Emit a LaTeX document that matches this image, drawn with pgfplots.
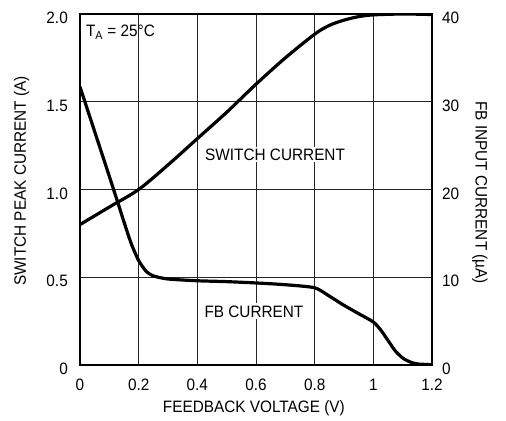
\documentclass[border=0pt]{standalone}
\usepackage{fontspec}
\setmainfont{Liberation Sans}[FakeStretch=0.93]
\usepackage{pgfplots}
\pgfplotsset{compat=1.18}
\begin{document}
\fontsize{16.5bp}{19bp}\selectfont
\begin{tikzpicture}
\path[use as bounding box] (-80bp,-56bp) rectangle (426bp,365bp);
\pgfplotsset{
  common/.style={
    scale only axis, width=352bp, height=351bp,
    at={(0,0)}, anchor=south west,
    xmin=0, xmax=1.2,
    /pgf/number format/assume math mode=true,
    tick style={draw=none},
    every tick label/.append style={font=\fontsize{16.5bp}{19bp}\selectfont},
    label style={font=\fontsize{16.5bp}{19bp}\selectfont},
    clip=true,
  }
}
\begin{axis}[common,
  ymin=0, ymax=2,
  xtick={0,0.2,0.4,0.6,0.8,1,1.2},
  xticklabels={0,0.2,0.4,0.6,0.8,1,1.2},
  ytick={0,0.5,1,1.5,2},
  yticklabels={0,0.5,1.0,1.5,2.0},
  grid=major, major grid style={draw=black!85, line width=0.9bp},
  axis line style={line width=1.6bp},
  xlabel={FEEDBACK VOLTAGE (V)},
  ylabel={SWITCH PEAK CURRENT (A)},
  every axis x label/.style={at={(axis description cs:0.494,-0.1225)}, anchor=center},
  every axis y label/.style={at={(axis description cs:-0.166,0.524)}, anchor=center, rotate=90},
  xticklabel style={anchor=center, yshift=-20bp},
  yticklabel style={anchor=east, inner sep=0pt, xshift=-12bp, yshift=-4bp},
]
\addplot[black, line width=3.2bp, smooth, tension=0.5] coordinates {
(0,0.8) (0.1,0.9) (0.2,1.0) (0.3,1.14) (0.4,1.29) (0.5,1.44) (0.6,1.6)
(0.7,1.75) (0.8,1.885) (0.85,1.935) (0.9,1.965) (0.95,1.985) (1.0,1.995)
(1.1,2.0) (1.2,1.997)};
\node[anchor=base west, inner sep=0pt] at (axis cs:0.02,1.871) {T\textsubscript{A} = 25°C};
\node[anchor=base, fill=white, inner sep=2pt] at (axis cs:0.665,1.168) {SWITCH CURRENT};
\node[anchor=base, fill=white, inner sep=2pt] at (axis cs:0.593,0.2735) {FB CURRENT};
\end{axis}
\begin{axis}[common,
  ymin=0, ymax=40,
  axis x line=none,
  axis y line*=right,
  ytick={0,10,20,30,40},
  yticklabels={0,10,20,30,40},
  axis line style={line width=1.6bp},
  ylabel={FB INPUT CURRENT (µA)},
  every axis y label/.style={at={(axis description cs:1.136,0.491)}, anchor=center, rotate=-90},
  yticklabel style={anchor=west, inner sep=0pt, xshift=10bp, yshift=-4bp},
]
\addplot[black, line width=3.2bp, smooth, tension=0.4] coordinates {
(0,31.7) (0.05,26.6) (0.1,21.5) (0.13,18.4) (0.15,16.3) (0.175,13.8)
(0.2,11.9) (0.225,10.7) (0.25,10.15) (0.3,9.8) (0.4,9.6) (0.5,9.5)
(0.6,9.35) (0.7,9.15) (0.8,8.8) (0.85,7.85) (0.9,6.8) (0.95,5.85) (1.0,4.9)
(1.025,4.0) (1.05,2.8) (1.075,1.6) (1.1,0.8) (1.125,0.35) (1.15,0.12) (1.2,0.03)};
\end{axis}
\end{tikzpicture}
\end{document}
